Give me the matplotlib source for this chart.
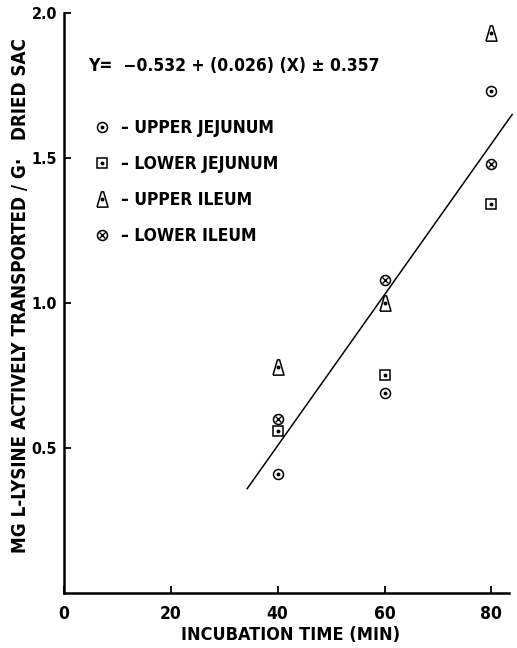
import matplotlib
matplotlib.use("Agg")
import matplotlib.pyplot as plt
from matplotlib.legend_handler import HandlerTuple
import numpy as np

# Incubation times (min) and transported lysine (mg / g dried sac)
times = [40, 60, 80]
upper_jejunum = [0.41, 0.69, 1.73]
lower_jejunum = [0.56, 0.75, 1.34]
upper_ileum = [0.78, 1.00, 1.93]
lower_ileum = [0.60, 1.08, 1.48]

# Regression: Y = a + b X
intercept = -0.532
slope = 0.026
std_err = 0.357
fit_range = [34.3, 83.9]

series_names = ["UPPER JEJUNUM", "LOWER JEJUNUM", "UPPER ILEUM", "LOWER ILEUM"]
x_ticks = [0, 20, 40, 60, 80]
y_ticks = [0.5, 1.0, 1.5, 2.0]
y_tick_labels = ["0.5", "1.0", "1.5", "2.0"]

FONT = dict(family="DejaVu Sans", fontweight="bold", fontstretch="condensed")
plt.rcParams["font.family"] = "DejaVu Sans"
plt.rcParams["font.weight"] = "bold"
plt.rcParams["font.stretch"] = "condensed"

fig = plt.figure(figsize=(5.17, 6.48), dpi=100)
ax = fig.add_axes([0.1238, 0.0849, 0.8607, 0.8955])
ax.set_xlim(0, 83.3)
ax.set_ylim(0, 2.0)

# cone-shaped triangle marker
cone = [(-0.72, -1.0), (0.72, -1.0), (0.14, 1.0), (-0.14, 1.0), (-0.72, -1.0)]

mew = 1.1
open_kw = dict(linestyle="none", markerfacecolor="white", markeredgecolor="black",
               markeredgewidth=mew)
dot_kw = dict(linestyle="none", marker="o", markersize=1.8, color="black")
x_kw = dict(linestyle="none", marker="x", markersize=4.6, color="black",
            markeredgewidth=1.0)

# regression line
xs = np.array(fit_range)
ax.plot(xs, intercept + slope * xs, color="black", linewidth=1.1, zorder=2,
        clip_on=False)

h_uj = ax.plot(times, upper_jejunum, marker="o", markersize=7.2, zorder=3, **open_kw)[0]
d_uj = ax.plot(times, upper_jejunum, zorder=4, **dot_kw)[0]
h_lj = ax.plot(times, lower_jejunum, marker="s", markersize=6.6, zorder=3, **open_kw)[0]
d_lj = ax.plot(times, lower_jejunum, zorder=4, **dot_kw)[0]
h_ui = ax.plot(times, upper_ileum, marker=cone, markersize=11, zorder=3, **open_kw)[0]
d_ui = ax.plot(times, upper_ileum, zorder=4, **dot_kw)[0]
h_li = ax.plot(times, lower_ileum, marker="o", markersize=7.2, zorder=3, **open_kw)[0]
x_li = ax.plot(times, lower_ileum, zorder=4, **x_kw)[0]

handles = [(h_uj, d_uj), (h_lj, d_lj), (h_ui, d_ui), (h_li, x_li)]
labels = ["\u2013 " + n for n in series_names]
leg = ax.legend(handles, labels, loc="upper left", bbox_to_anchor=(0.047, 0.832),
                frameon=False, handlelength=1.0, handletextpad=0.6,
                labelspacing=1.04, borderpad=0.0,
                handler_map={tuple: HandlerTuple(ndivide=1)},
                prop=dict(family="DejaVu Sans", weight="bold", stretch="condensed",
                          size=12.5))

eq = "Y=  \u22120.532 + (0.026) (X) \u00b1 0.357"
ax.text(0.054, 0.909, eq, transform=ax.transAxes, va="center", ha="left",
        fontsize=12.5, **FONT)

# axes styling
for side in ("top", "right"):
    ax.spines[side].set_visible(False)
for side in ("left", "bottom"):
    ax.spines[side].set_linewidth(1.8)
ax.set_xticks(x_ticks)
ax.set_xticklabels([str(t) for t in x_ticks], fontsize=12.5, **FONT)
ax.set_yticks(y_ticks)
ax.set_yticklabels(y_tick_labels, fontsize=11.5, **FONT)
ax.tick_params(axis="both", direction="in", length=5, width=1.3)
ax.tick_params(axis="x", pad=9)
ax.tick_params(axis="y", pad=5)

ax.set_xlabel("INCUBATION TIME (MIN)", fontsize=13, **FONT)
ax.xaxis.set_label_coords(0.51, -0.073)
ax.xaxis.label.set_va("center")
ax.set_ylabel("MG L-LYSINE ACTIVELY TRANSPORTED / G\u00b7   DRIED SAC",
              fontsize=13.5, **FONT)
ax.yaxis.set_label_coords(-0.098, 0.513)
ax.yaxis.label.set_va("center")

fig.savefig("out.png", dpi=100, facecolor="white")
